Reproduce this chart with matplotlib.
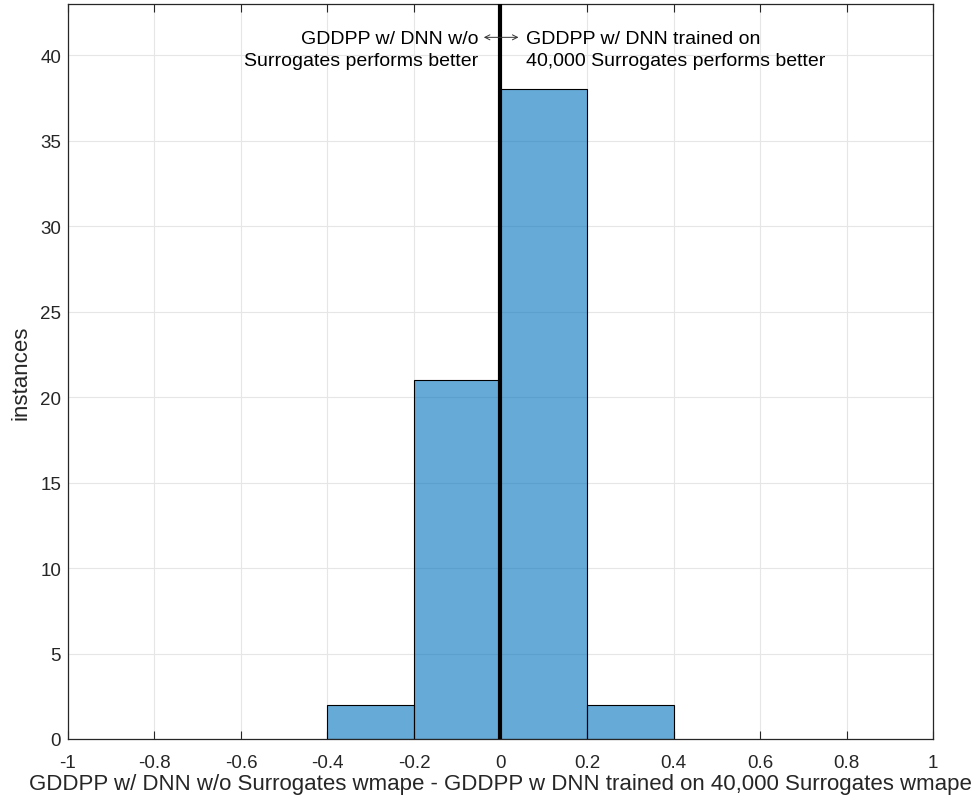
import matplotlib
matplotlib.use("Agg")
import matplotlib.pyplot as plt
import numpy as np

plt.rcParams['font.family'] = ['Liberation Sans', 'DejaVu Sans']

bin_edges = [-0.4, -0.2, 0.0, 0.2, 0.4]
counts = [2, 21, 38, 2]
xticks = [-1, -0.8, -0.6, -0.4, -0.2, 0, 0.2, 0.4, 0.6, 0.8, 1]
xticklabels = ['-1', '-0.8', '-0.6', '-0.4', '-0.2', '0', '0.2', '0.4', '0.6', '0.8', '1']
yticks = [0, 5, 10, 15, 20, 25, 30, 35, 40]

fig = plt.figure(figsize=(9.78, 8.03), dpi=100)
ax = fig.add_axes([68/978, 1 - 740/803, (933-68)/978, (740-5)/803])

lefts = np.array(bin_edges[:-1])
widths = np.diff(bin_edges)
ax.bar(lefts, counts, width=widths, align='edge', color=(0, 0.447, 0.741, 0.6),
       edgecolor='black', linewidth=0.8, zorder=2)
ax.axvline(0, color='black', linewidth=3, zorder=3)

ax.set_xlim(-1, 1)
ax.set_ylim(0, 43)
ax.set_xticks(xticks)
ax.set_xticklabels(xticklabels)
ax.set_yticks(yticks)
ax.grid(True, color='#e6e6e6', linewidth=0.8, zorder=0)
ax.set_axisbelow(True)
ax.tick_params(direction='in', length=6, width=0.8, top=True, right=False,
               labelsize=13.5, colors='#262626', labelcolor='#262626')
ax.tick_params(axis='x', pad=11)
ax.tick_params(axis='y', length=0, pad=5)
for s in ax.spines.values():
    s.set_color('#262626')
    s.set_linewidth(0.9)

ax.set_xlabel('GDDPP w/ DNN w/o Surrogates wmape - GDDPP w DNN trained on 40,000 Surrogates wmape',
              fontsize=16, color='#262626', labelpad=1)
ax.set_ylabel('instances', fontsize=16, color='#262626', labelpad=6)

ax.text(-0.052, 40.35, 'GDDPP w/ DNN w/o\nSurrogates performs better', ha='right', va='center',
        fontsize=14, linespacing=1.4, zorder=4)
ax.text(0.06, 40.35, 'GDDPP w/ DNN trained on\n40,000 Surrogates performs better', ha='left', va='center',
        fontsize=14, linespacing=1.4, zorder=4)
ax.annotate('', xy=(0.048, 41.05), xytext=(-0.045, 41.05),
            arrowprops=dict(arrowstyle='<->', lw=0.7, color='#333333', mutation_scale=9), zorder=4)

fig.savefig('out.png', dpi=100)
